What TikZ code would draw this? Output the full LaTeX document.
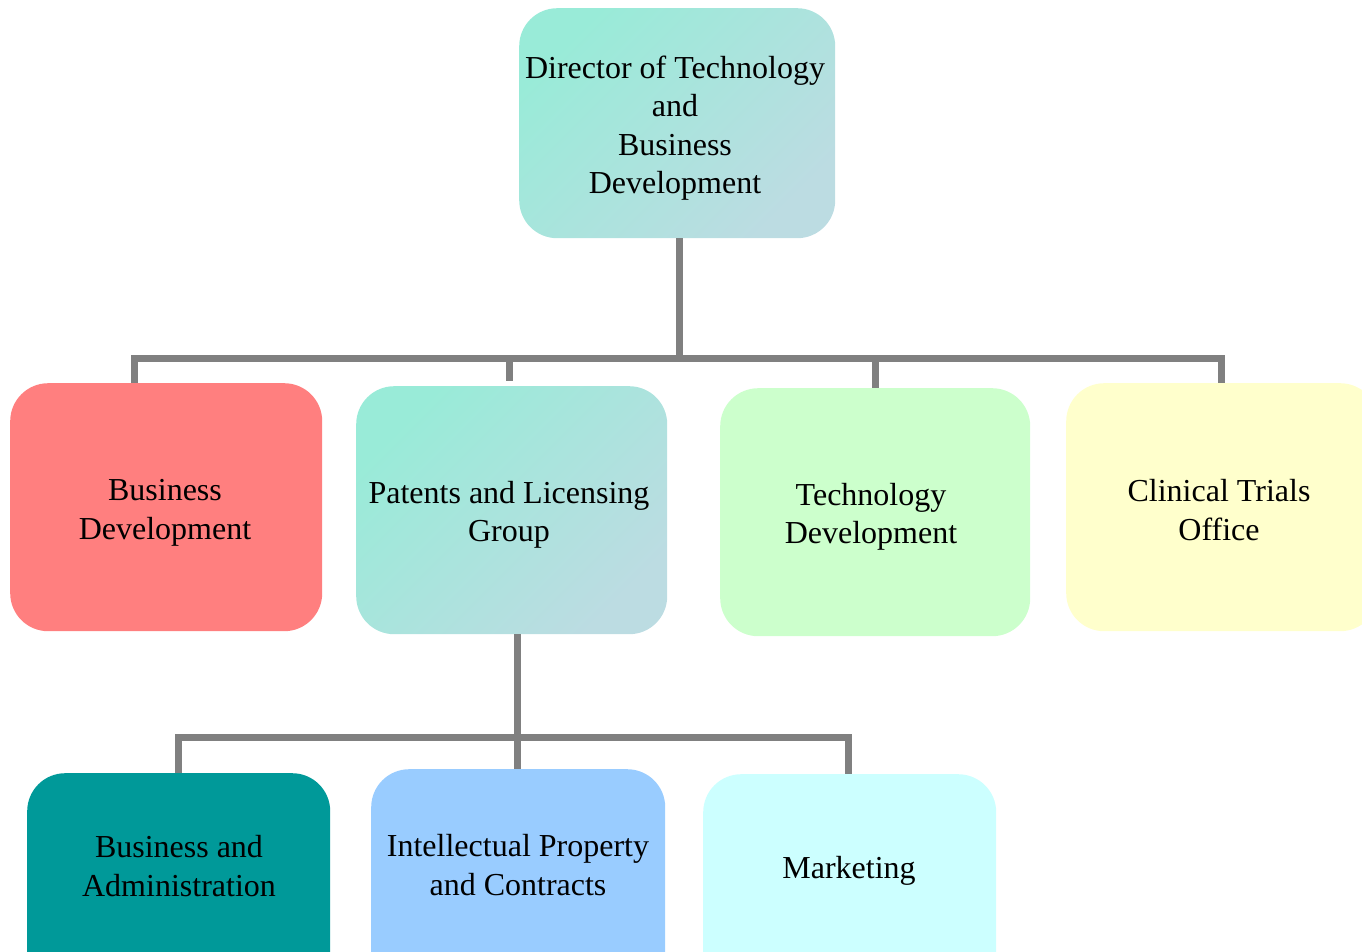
\documentclass[tikz,border=0pt]{standalone}
\usepackage{fontspec}
\setmainfont{Liberation Serif}
\begin{document}
\begin{tikzpicture}[x=1pt,y=-1pt,
  box/.style={rounded corners=38pt, inner sep=0pt, anchor=north west},
  tealgrad/.style={top color=tealA, middle color=tealA, bottom color=tealB, shading angle=45},
  lbl/.style={align=center, inner sep=0pt, font=\fontsize{32}{38.4}\selectfont},
  conn/.style={draw=connGray, line width=7pt, line join=miter, line cap=butt}]
\definecolor{tealA}{HTML}{99EBD8}
\definecolor{tealB}{HTML}{BCDCE2}
\definecolor{connGray}{HTML}{808080}
\definecolor{bdRed}{HTML}{FF7F7F}
\definecolor{tdGreen}{HTML}{CCFFCC}
\definecolor{ctoYellow}{HTML}{FFFFCC}
\definecolor{baTeal}{HTML}{009999}
\definecolor{ipcBlue}{HTML}{99CCFF}
\definecolor{mktCyan}{HTML}{CCFFFF}

\useasboundingbox (0,0) rectangle (1362,951);
\clip (0,0) rectangle (1362,951);

% boxes
\node[box, tealgrad, minimum width=316pt, minimum height=230pt] (top) at (519,8) {};
\node[box, fill=bdRed, minimum width=312pt, minimum height=248pt] (bd) at (10,383) {};
\node[box, tealgrad, minimum width=311pt, minimum height=248pt] (plg) at (356,386) {};
\node[box, fill=tdGreen, minimum width=310pt, minimum height=248pt] (td) at (720,388) {};
\node[box, fill=ctoYellow, minimum width=312pt, minimum height=248pt] (cto) at (1066,383) {};
\node[box, fill=baTeal, minimum width=303pt, minimum height=230pt] (ba) at (27,773) {};
\node[box, fill=ipcBlue, minimum width=294pt, minimum height=230pt] (ipc) at (371,769) {};
\node[box, fill=mktCyan, minimum width=293pt, minimum height=230pt] (mkt) at (703,774) {};

% labels
\node[lbl] (top-t) at (675,128) {Director of Technology\\and\\Business\\Development};
\node[lbl] (bd-t) at (165,513) {Business\\Development};
\node[lbl] (plg-t) at (509,515) {Patents and Licensing\\Group};
\node[lbl] (td-t) at (871,517) {Technology\\Development};
\node[lbl] (cto-t) at (1219,510) {Clinical Trials\\Office};
\node[lbl] (ba-t) at (179,866) {Business and\\Administration};
\node[lbl] (ipc-t) at (518,865) {Intellectual Property\\and Contracts};
\node[lbl] (mkt-t) at (849,871) {Marketing};

% connector anchor points
\coordinate (bus) at (0,358);
\coordinate (bus2) at (0,737);
\coordinate (bd-in) at (134,383);
\coordinate (plg-in) at (509,381);
\coordinate (td-in) at (875,388);
\coordinate (cto-in) at (1221,383);
\coordinate (plg-out) at (517,634);
\coordinate (ba-in) at (178,773);
\coordinate (ipc-in) at (517,769);
\coordinate (mkt-in) at (848,774);

% upper level
\draw[conn] ([xshift=2pt]top.south) -- ([xshift=2pt]top.south |- bus);
\draw[conn] (bd-in) -- (bd-in |- bus) -- (cto-in |- bus) -- (cto-in);
\draw[conn] (plg-in |- bus) -- (plg-in);
\draw[conn] (td-in |- bus) -- (td-in);

% lower level
\draw[conn] (plg-out) -- (ipc-in);
\draw[conn] (ba-in) -- (ba-in |- bus2) -- (mkt-in |- bus2) -- (mkt-in);
\end{tikzpicture}
\end{document}
